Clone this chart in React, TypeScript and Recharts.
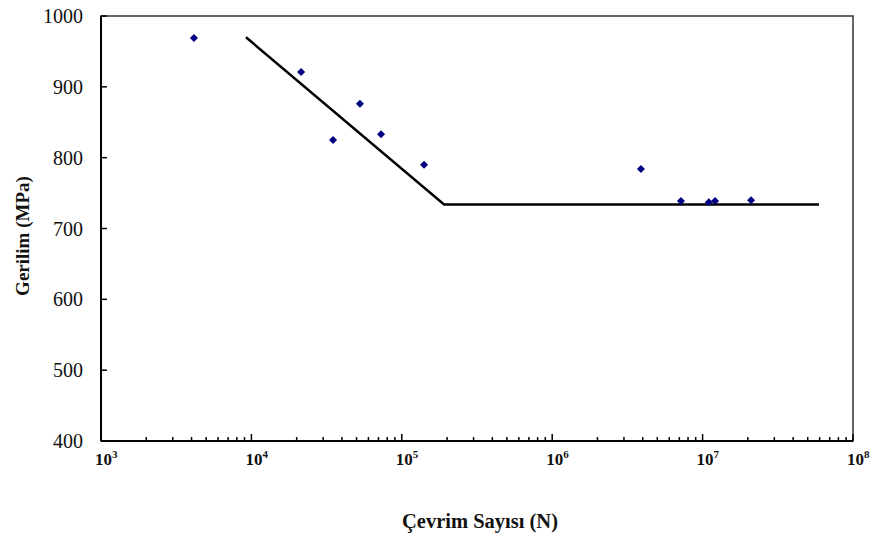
import { ScatterChart, Scatter, XAxis, YAxis, ReferenceArea } from "recharts";

// Fatigue test results: cycles to failure vs. stress
const testCycles = [4150, 21400, 34900, 52700, 72800, 140600, 3890000, 7180000, 11000000, 12100000, 21000000];
const testStress = [969, 921, 825, 876, 833, 790, 784, 739, 737, 739, 740];

// fitted S-N curve (knee + endurance limit)
const curveCycles = [9200, 191000, 59400000];
const curveStress = [970, 734, 734];

const decades = [3, 4, 5, 6, 7, 8];
const minorSteps = [1, 2, 3, 4, 5, 6, 7, 8, 9];
const stressTicks = [400, 500, 600, 700, 800, 900, 1000];

const xTicks: number[] = [];
decades.forEach((d) => {
  if (d === 8) xTicks.push(Math.pow(10, d));
  else minorSteps.forEach((m) => xTicks.push(m * Math.pow(10, d)));
});

const points = testCycles.map((n, i) => ({ n, s: testStress[i] }));
const curve = curveCycles.map((n, i) => ({ n, s: curveStress[i] }));

const FONT = '"Liberation Serif", "Times New Roman", serif';

function CycleTick(props: any) {
  const { x, y, payload } = props;
  const v = payload.value;
  const exp = Math.round(Math.log10(v));
  const major = Math.abs(v - Math.pow(10, exp)) < v * 1e-6;
  return (
    <g>
      <line x1={x} x2={x} y1={y} y2={y - (major ? 7 : 4)} stroke="#000" strokeWidth={1.5} />
      {major && (
        <text x={x - 6} y={y + 24} fontFamily={FONT} fontSize={17} fontWeight="bold" fill="#111" textAnchor="start">
          10
          <tspan dy={-7} fontSize={11}>
            {String(exp)}
          </tspan>
        </text>
      )}
    </g>
  );
}

function StressTick(props: any) {
  const { x, y, payload } = props;
  return (
    <g>
      <line x1={x} x2={x + 6} y1={y} y2={y} stroke="#000" strokeWidth={1.5} />
      <text x={x - 18} y={y} dy={7} fontFamily={FONT} fontSize={20} fill="#111" textAnchor="end">
        {payload.value}
      </text>
    </g>
  );
}

function Diamond(props: any) {
  const { cx, cy } = props;
  const r = 4;
  return <path d={`M${cx},${cy - r}L${cx + r},${cy}L${cx},${cy + r}L${cx - r},${cy}Z`} fill="#000080" />;
}

export default function App() {
  return (
    <div style={{ position: "absolute", left: 0, top: 0, background: "#fff" }}>
      <ScatterChart width={877} height={539} margin={{ top: 16, right: 24, bottom: 8, left: 41 }}>
        <ReferenceArea x1={1000} x2={100000000} y1={400} y2={1000} fill="none" stroke="#333" strokeWidth={1.5} />
        <XAxis
          type="number"
          dataKey="n"
          scale="log"
          domain={[1000, 100000000]}
          ticks={xTicks}
          interval={0}
          tick={<CycleTick />}
          tickSize={0}
          tickMargin={0}
          tickLine={false}
          axisLine={{ stroke: "#000", strokeWidth: 2 }}
          height={90}
          allowDataOverflow
          label={{
            content: (p: any) => {
              const vb = p.viewBox;
              return (
                <text x={vb.x + vb.width / 2 + 3} y={vb.y + 87} textAnchor="middle" fontFamily={FONT} fontSize={20.5} fontWeight="bold" fill="#111">
                  Çevrim Sayısı (N)
                </text>
              );
            },
          }}
        />
        <YAxis
          type="number"
          dataKey="s"
          domain={[400, 1000]}
          ticks={stressTicks}
          interval={0}
          tick={<StressTick />}
          tickSize={0}
          tickMargin={0}
          tickLine={false}
          axisLine={{ stroke: "#000", strokeWidth: 2 }}
          width={60}
          label={{
            content: () => {
              const cx = 22;
              const cy = 236;
              return (
                <text x={cx} y={cy} transform={`rotate(-90 ${cx} ${cy})`} textAnchor="middle" dominantBaseline="central" fontFamily={FONT} fontSize={19} fontWeight="bold" fill="#111">
                  Gerilim (MPa)
                </text>
              );
            },
          }}
        />
        <Scatter data={curve} line={{ stroke: "#000", strokeWidth: 2.5 }} lineType="joint" shape={() => <g />} isAnimationActive={false} />
        <Scatter data={points} shape={<Diamond />} isAnimationActive={false} />
      </ScatterChart>
    </div>
  );
}
